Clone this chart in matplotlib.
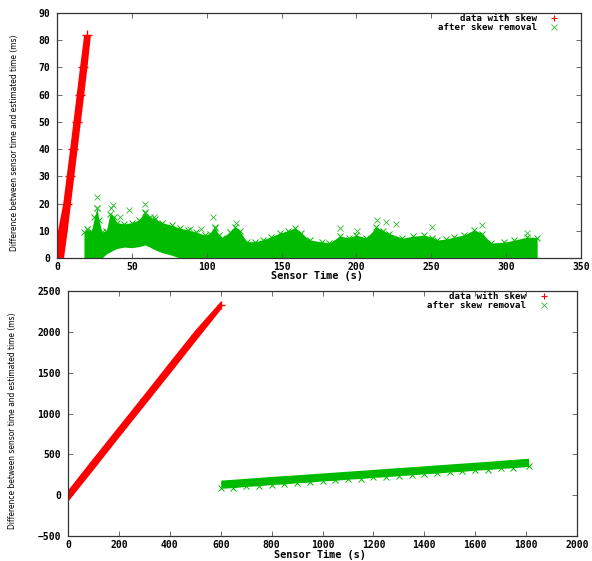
import matplotlib
matplotlib.use("Agg")
import matplotlib.pyplot as plt
from matplotlib.lines import Line2D

# ---------------- data ----------------
# Top panel: data with skew (red band), y levels and left/right x edges
top_red_y = [0, 10, 20, 30, 40, 50, 60, 70, 82]
top_red_left = [0.0, 0.3, 3.8, 6.1, 8.4, 10.6, 12.8, 15.0, 17.8]
top_red_right = [4.3, 6.8, 9.0, 11.2, 13.4, 15.6, 17.8, 20.0, 22.3]

# Top panel: after skew removal (green band) upper envelope
top_green_x = [18, 20, 23, 25, 26.7, 28, 30, 33, 35.3, 38, 40, 45, 50, 55, 58.7,
               62, 65.3, 70, 76.7, 82, 87.3, 93, 98.7, 102, 105.3, 108, 110,
               115.3, 118.7, 122, 126.7, 132, 137.3, 143, 148.7, 154, 158.7,
               163.3, 168.7, 177.3, 182, 188.7, 195, 200, 206.7, 213.3, 218,
               222, 230.7, 238, 245.3, 250.7, 254, 260, 265.3, 272, 278.7, 284,
               290, 298.7, 305, 314, 320.7]
top_green_hi = [9.5, 10.5, 10, 15, 18.5, 14, 9.5, 10, 16, 15, 13, 12.5, 13, 14, 17,
                15, 14.5, 13, 12, 11, 10.3, 9.5, 8.4, 9, 11.4, 8.5, 7.3,
                9.5, 11.5, 10, 6, 6, 6.6, 7.8, 9.1, 10, 11,
                9.1, 6.6, 5.9, 5.5, 8, 7.5, 8.4, 7.3, 11.4, 10,
                9, 7.3, 8, 8.4, 7.5, 6.6, 7, 7.7, 8.5, 10.3, 9,
                5.5, 5.8, 6.5, 7.7, 7.5]
top_green_lo = [0, 0, 0, 0, 0, 0, 0, 1.5, 2.2, 3.0, 3.5, 4.0, 3.8, 4.2, 4.8,
                4.0, 3.0, 2.0, 1.0, 0, 0, 0, 0, 0, 0, 0, 0,
                0, 0, 0, 0, 0, 0, 0, 0, 0, 0,
                0, 0, 0, 0, 0, 0, 0, 0, 0, 0,
                0, 0, 0, 0, 0, 0, 0, 0, 0, 0, 0,
                0, 0, 0, 0, 0]
# Top panel: isolated outlier points of the green series
top_out_x = [26.4, 26.4, 20, 37.4, 36, 48, 59, 58.5, 42, 104, 105.3, 119.8,
             65, 96, 89, 214, 220, 226.7, 188.7, 200.7, 250.7, 284, 314]
top_out_y = [22.3, 18.3, 10.6, 19.5, 18.5, 17.6, 19.8, 16.5, 15, 15.2, 11, 13,
             15, 10.5, 10.8, 13.9, 13.2, 12.5, 11, 9.9, 11.4, 12.1, 9.2]

# Bottom panel: data with skew (red band)
bot_red_x = [0, 100, 200, 300, 400, 500, 600]
bot_red_lo = [-70, 320, 715, 1105, 1495, 1890, 2280]
bot_red_hi = [70, 465, 855, 1245, 1640, 2030, 2380]

# Bottom panel: after skew removal (green band)
bot_green_x = [600, 650, 700, 750, 800, 850, 900, 950, 1000, 1050, 1100, 1150,
               1200, 1250, 1300, 1350, 1400, 1450, 1500, 1550, 1600, 1650,
               1700, 1750, 1810]
bot_green_hi = [185, 195, 207, 218, 230, 240, 250, 261, 272, 283, 294, 305,
                316, 327, 338, 349, 360, 371, 382, 393, 404, 415,
                427, 439, 452]
bot_green_lo = [85, 92, 108, 115, 130, 138, 152, 160, 175, 182, 196, 204,
                218, 226, 240, 248, 262, 270, 284, 292, 306, 314,
                328, 336, 352]

labels = ["data with skew", "after skew removal"]
xlabel = "Sensor Time (s)"
ylabel = "Difference between sensor time and estimated time (ms)"

RED = "#ff0000"
GREEN = "#00bb00"
GREEN_L = "#33b833"

mono = "DejaVu Sans Mono"

fig = plt.figure(figsize=(5.92, 5.61), dpi=100)
ax1 = fig.add_axes([57/592, 1-258/561, 524/592, 245/561])
ax2 = fig.add_axes([68/592, 1-536/561, 509/592, 245/561])


def style(ax, xt, yt):
    ax.set_xticks(xt)
    ax.set_yticks(yt)
    ax.tick_params(direction="in", top=True, right=True, length=3.5,
                   width=0.6, labelsize=7, color="#555555")
    ax.tick_params(axis="x", pad=3)
    ax.tick_params(axis="y", pad=5)
    for lab in ax.get_xticklabels() + ax.get_yticklabels():
        lab.set_family(mono)
        lab.set_fontweight("bold")
    for s in ax.spines.values():
        s.set_linewidth(0.9)
        s.set_color("#333333")


# ---------------- top panel ----------------
ax1.fill_betweenx(top_red_y, top_red_left, top_red_right, color=RED, lw=0)
ax1.plot([(a + b) / 2 for a, b in zip(top_red_left, top_red_right)], top_red_y,
         ls="none", marker="+", ms=7, mew=1.0, color=RED)
ax1.fill_between(top_green_x, top_green_lo, top_green_hi, color=GREEN, lw=0)
ax1.plot(top_green_x, top_green_hi, ls="none", marker="x", ms=4, mew=0.7,
         color=GREEN)
ax1.plot(top_out_x, top_out_y, ls="none", marker="x", ms=5, mew=0.6,
         color=GREEN_L)
ax1.set_xlim(0, 350)
ax1.set_ylim(0, 90)
style(ax1, range(0, 351, 50), range(0, 91, 10))

# ---------------- bottom panel ----------------
ax2.fill_between(bot_red_x, bot_red_lo, bot_red_hi, color=RED, lw=0)
ax2.plot(bot_red_x, [(a + b) / 2 for a, b in zip(bot_red_lo, bot_red_hi)],
         ls="none", marker="+", ms=6, mew=1.0, color=RED)
ax2.fill_between(bot_green_x, bot_green_lo, bot_green_hi, color=GREEN, lw=0)
ax2.plot(bot_green_x, bot_green_lo, ls="none", marker="x", ms=4, mew=0.7,
         color=GREEN)
ax2.set_xlim(0, 2000)
ax2.set_ylim(-500, 2500)
style(ax2, range(0, 2001, 200), range(-500, 2501, 500))

handles = [Line2D([], [], ls="none", marker="+", ms=5, mew=0.8, color=RED),
           Line2D([], [], ls="none", marker="x", ms=4, mew=0.6, color=GREEN_L)]

for ax, anchor, lx, ly, yl in [
        (ax1, (0.962, 1.0), 0.496, -0.073, -0.073),
        (ax2, (0.948, 1.0), 0.495, -0.077, -0.10)]:
    ax.legend(handles, labels, loc="upper right", bbox_to_anchor=anchor,
              frameon=False, markerfirst=False, handlelength=1.2,
              handletextpad=1.3, labelspacing=0.0, borderpad=0.15,
              borderaxespad=0,
              prop={"family": mono, "weight": "bold", "size": 6.6})
    ax.set_xlabel(xlabel, family=mono, fontweight="bold", fontsize=7.4)
    ax.xaxis.label.set_verticalalignment("center")
    ax.xaxis.set_label_coords(lx, ly)
    ax.set_ylabel(ylabel, family="DejaVu Sans", fontsize=6.0,
                  fontstretch="condensed")
    ax.yaxis.set_label_coords(yl, 0.47)

fig.savefig("out.png", dpi=100)
